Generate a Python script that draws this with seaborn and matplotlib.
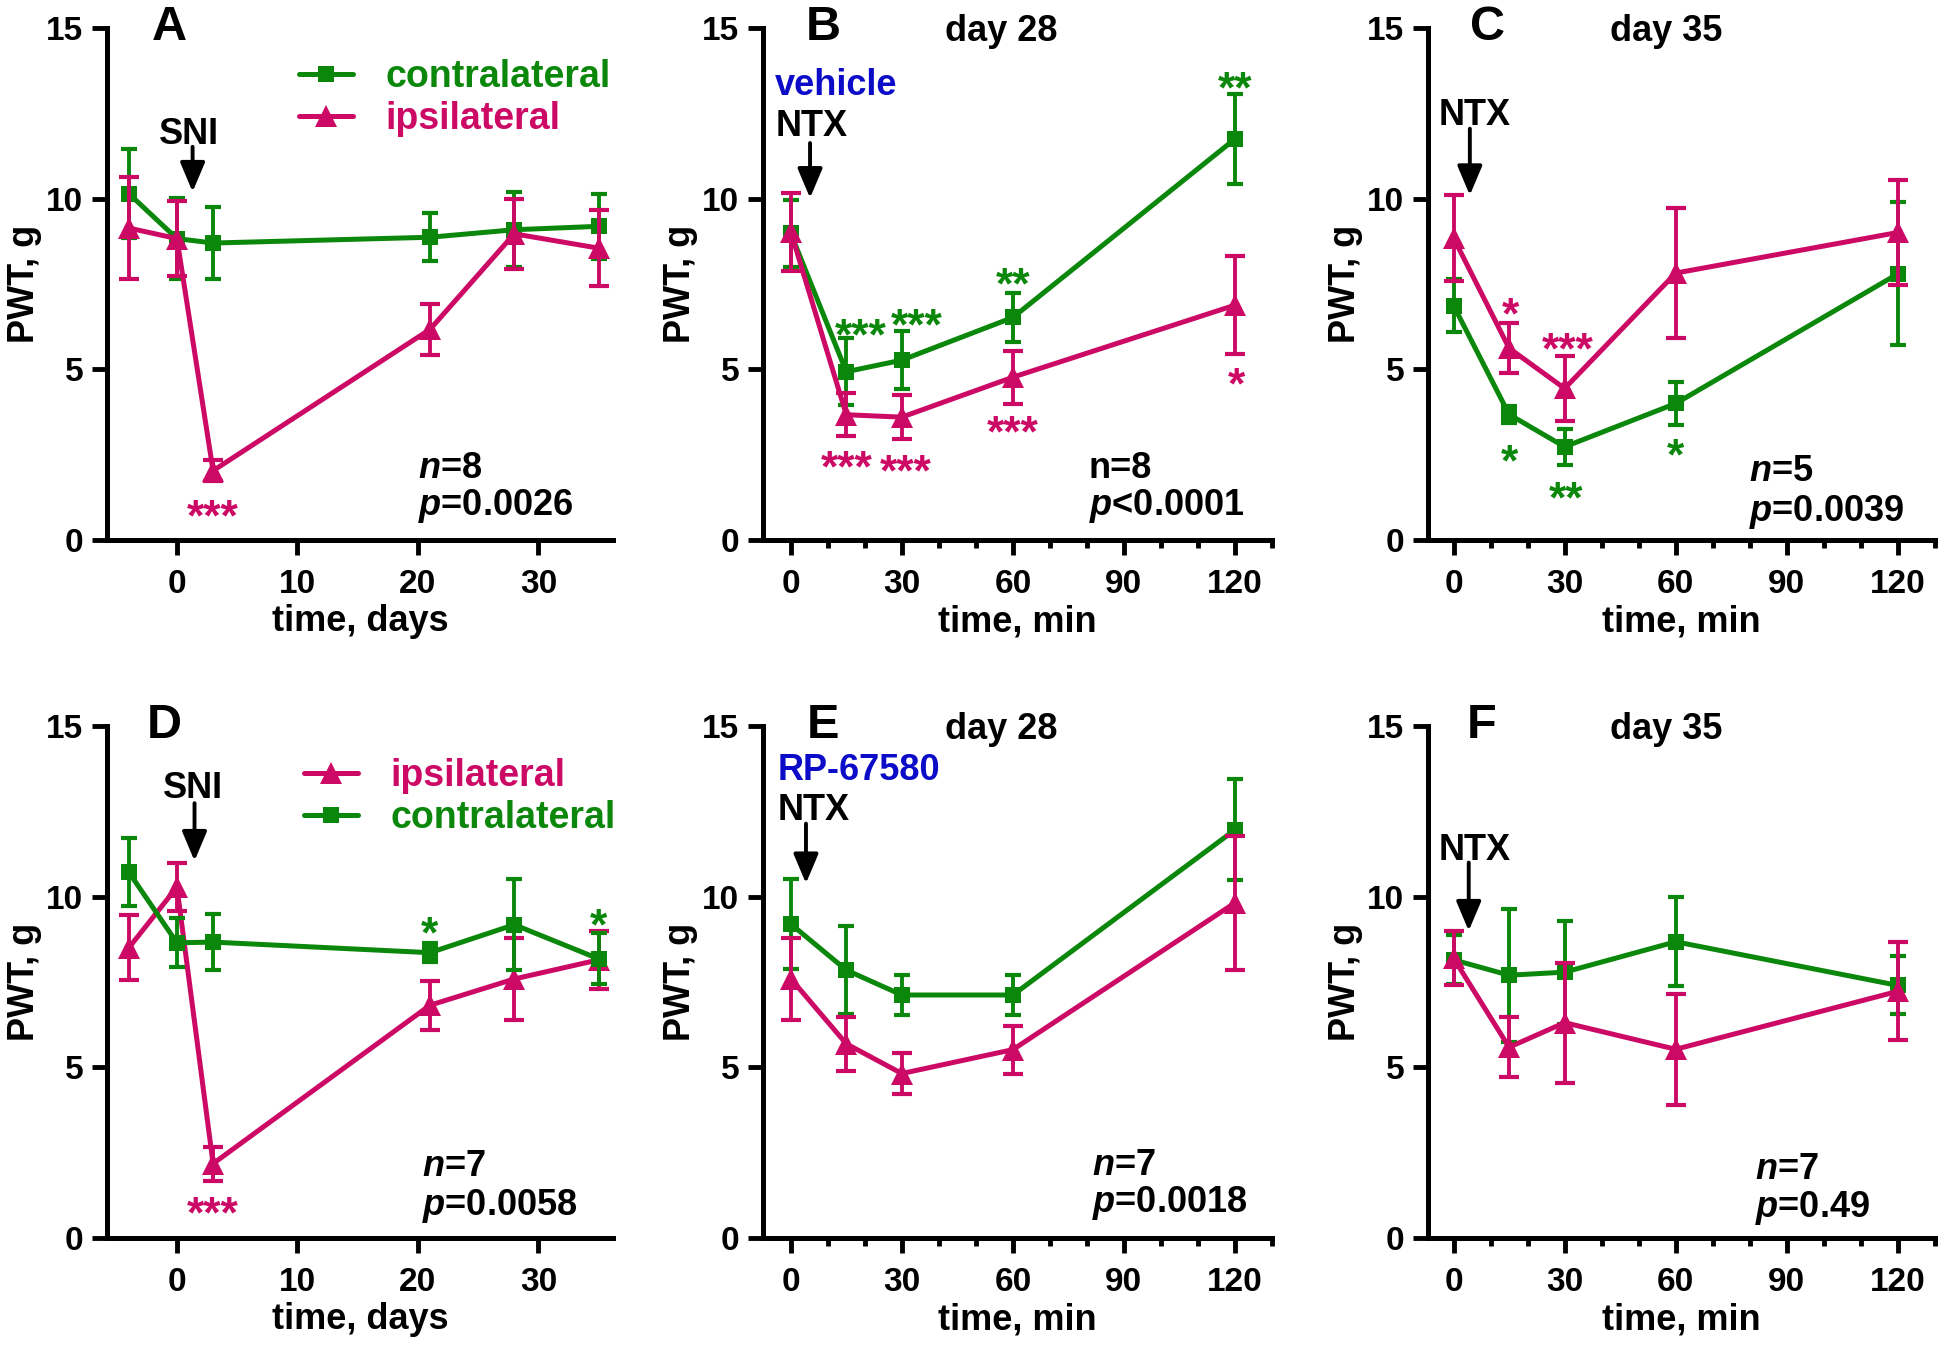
import matplotlib
matplotlib.use("Agg")
import matplotlib.pyplot as plt
import seaborn as sns
from matplotlib.ticker import MultipleLocator

GREEN = "#0b870b"
PINK = "#cc0a66"
BLUE = "#0c0cc8"

days = [-4, 0, 3, 21, 28, 35]
minutes = [0, 15, 30, 60, 120]

# panel A (SNI, days)
a_contra = [10.15, 8.83, 8.70, 8.87, 9.09, 9.19]
a_contra_sem = [1.31, 1.19, 1.06, 0.70, 1.10, 0.95]
a_ipsi = [9.14, 8.83, 2.03, 6.17, 8.97, 8.55]
a_ipsi_sem = [1.50, 1.11, 0.30, 0.75, 1.03, 1.12]

# panel B (vehicle, day 28)
b_contra = [8.98, 4.93, 5.27, 6.52, 11.75]
b_contra_sem = [0.98, 0.98, 0.85, 0.72, 1.33]
b_ipsi = [9.03, 3.67, 3.60, 4.77, 6.88]
b_ipsi_sem = [1.15, 0.63, 0.65, 0.78, 1.43]

# panel C (day 35)
c_contra = [6.87, 3.68, 2.73, 4.00, 7.80]
c_contra_sem = [0.79, 0.25, 0.52, 0.62, 2.10]
c_ipsi = [8.85, 5.62, 4.44, 7.82, 9.01]
c_ipsi_sem = [1.25, 0.73, 0.96, 1.91, 1.55]

# panel D (SNI, days)
d_contra = [10.72, 8.65, 8.67, 8.36, 9.18, 8.18]
d_contra_sem = [1.00, 0.72, 0.82, 0.27, 1.33, 0.75]
d_ipsi = [8.50, 10.28, 2.18, 6.82, 7.59, 8.15]
d_ipsi_sem = [0.95, 0.70, 0.50, 0.72, 1.19, 0.85]

# panel E (RP-67580, day 28)
e_contra = [9.20, 7.85, 7.12, 7.12, 11.96]
e_contra_sem = [1.31, 1.30, 0.60, 0.60, 1.48]
e_ipsi = [7.60, 5.69, 4.82, 5.52, 9.82]
e_ipsi_sem = [1.20, 0.80, 0.59, 0.70, 1.97]

# panel F (day 35)
f_contra = [8.15, 7.70, 7.79, 8.68, 7.40]
f_contra_sem = [0.72, 1.95, 1.51, 1.31, 0.85]
f_ipsi = [8.20, 5.59, 6.31, 5.53, 7.23]
f_ipsi_sem = [0.80, 0.88, 1.76, 1.63, 1.43]

# significance marks: (x, y, text, color)
a_stars = [(3, 1.01, "***", PINK)]
b_stars = [(19, 6.32, "***", GREEN), (34, 6.62, "***", GREEN), (60, 7.82, "**", GREEN),
           (120, 13.54, "**", GREEN), (15, 2.45, "***", PINK), (31, 2.33, "***", PINK),
           (60, 3.46, "***", PINK), (120.5, 4.89, "*", PINK)]
c_stars = [(15.5, 6.92, "*", PINK), (30.8, 5.91, "***", PINK), (15, 2.63, "*", GREEN),
           (30.4, 1.55, "**", GREEN), (60, 2.80, "*", GREEN)]
d_stars = [(3, 1.03, "***", PINK), (21, 9.24, "*", GREEN), (35, 9.48, "*", GREEN)]

sns.set_theme(style="ticks")
plt.rcParams["font.family"] = ["Liberation Sans", "DejaVu Sans"]
plt.rcParams["font.weight"] = "bold"
plt.rcParams["axes.labelweight"] = "bold"
plt.rcParams["text.color"] = "black"
plt.rcParams["axes.labelcolor"] = "black"
plt.rcParams["xtick.labelcolor"] = "black"
plt.rcParams["ytick.labelcolor"] = "black"
plt.rcParams["mathtext.fontset"] = "custom"
plt.rcParams["mathtext.it"] = "Liberation Sans:italic:bold"
plt.rcParams["mathtext.rm"] = "Liberation Sans:bold"

FS = 26
TICK_FS = 24


def series(ax, x, y, sem, color, marker, ms, cap, label):
    ax.errorbar(x, y, yerr=sem, fmt="none", ecolor=color, elinewidth=2.8,
                capsize=cap, capthick=3.0, clip_on=False)
    sns.lineplot(x=x, y=y, color=color, marker=marker, markersize=ms,
                 markeredgewidth=0, linewidth=3.6, errorbar=None, legend=False,
                 label=label, ax=ax, clip_on=False)


def txt(ax, x, y, s, coords="data", ha="center", frac=0.36, **kw):
    kw.setdefault("fontsize", FS)
    kw.setdefault("fontweight", "bold")
    kw.setdefault("color", "black")
    ax.annotate(s, (x, y), xycoords=coords, xytext=(0, -frac * kw["fontsize"]),
                textcoords="offset points", ha=ha, va="baseline", **kw)


def arrow(ax, x, y0, y1):
    ax.annotate("", xy=(x, y1), xytext=(x, y0),
                arrowprops=dict(arrowstyle="-|>,head_length=0.9,head_width=0.38",
                                mutation_scale=20, lw=2.8, color="black",
                                shrinkA=0, shrinkB=0))


def style(ax, xlim, xticks, minor, xlabel):
    ax.set_xlim(*xlim)
    ax.set_ylim(0, 15)
    ax.set_xticks(xticks)
    ax.set_yticks([0, 5, 10, 15])
    if minor:
        ax.xaxis.set_minor_locator(MultipleLocator(10))
    sns.despine(ax=ax)
    for side in ("left", "bottom"):
        ax.spines[side].set_linewidth(3.6)
        ax.spines[side].set_color("black")
    ax.tick_params(axis="y", length=11, width=3.5, labelsize=TICK_FS, pad=6,
                   color="black", labelcolor="black")
    ax.tick_params(axis="x", which="major", length=11, width=3.5, labelsize=TICK_FS,
                   pad=10, color="black", labelcolor="black")
    ax.tick_params(axis="x", which="minor", length=6, width=3.5, color="black")
    for lbl in ax.get_xticklabels() + ax.get_yticklabels():
        lbl.set_fontweight("bold")
    ax.set_xlabel(xlabel, fontsize=FS, labelpad=3, color="black")
    ax.set_ylabel("PWT, g", fontsize=FS, labelpad=3, color="black")


fig = plt.figure(figsize=(19.5, 13.46), dpi=100)
axA = fig.add_axes([0.0549, 0.5988, 0.2595, 0.3804])
axB = fig.add_axes([0.3913, 0.5988, 0.2610, 0.3804])
axC = fig.add_axes([0.7323, 0.5988, 0.2600, 0.3804])
axD = fig.add_axes([0.0549, 0.0802, 0.2595, 0.3804])
axE = fig.add_axes([0.3913, 0.0802, 0.2610, 0.3804])
axF = fig.add_axes([0.7323, 0.0802, 0.2600, 0.3804])

legend_kw = dict(loc="upper right", frameon=False, fontsize=27, handlelength=1.45,
                 handletextpad=0.85, labelspacing=0.17, borderpad=0, borderaxespad=0,
                 labelcolor="linecolor")

# A
series(axA, days, a_contra, a_contra_sem, GREEN, "s", 12, 5.5, "contralateral")
series(axA, days, a_ipsi, a_ipsi_sem, PINK, "^", 16, 7, "ipsilateral")
style(axA, (-5.8, 36.2), [0, 10, 20, 30], False, "time, days")
axA.legend(bbox_to_anchor=(0.995, 0.94), **legend_kw)
txt(axA, 0.96, 11.99, "SNI")
arrow(axA, 1.3, 11.52, 10.2)

# B
series(axB, minutes, b_contra, b_contra_sem, GREEN, "s", 12, 5.5, None)
series(axB, minutes, b_ipsi, b_ipsi_sem, PINK, "^", 16, 7, None)
style(axB, (-7.5, 130), [0, 30, 60, 90, 120], True, "time, min")
txt(axB, -4.2, 13.42, "vehicle", ha="left", color=BLUE)
txt(axB, -4.2, 12.23, "NTX", ha="left")
arrow(axB, 5.2, 11.63, 10.02)

# C
series(axC, minutes, c_contra, c_contra_sem, GREEN, "s", 12, 5.5, None)
series(axC, minutes, c_ipsi, c_ipsi_sem, PINK, "^", 16, 7, None)
style(axC, (-6.9, 130), [0, 30, 60, 90, 120], True, "time, min")
txt(axC, -3.9, 12.53, "NTX", ha="left")
arrow(axC, 4.4, 12.05, 10.1)

# D
series(axD, days, d_ipsi, d_ipsi_sem, PINK, "^", 16, 7, "ipsilateral")
series(axD, days, d_contra, d_contra_sem, GREEN, "s", 12, 5.5, "contralateral")
style(axD, (-5.8, 36.2), [0, 10, 20, 30], False, "time, days")
axD.legend(bbox_to_anchor=(1.005, 0.938), **legend_kw)
txt(axD, 1.3, 13.28, "SNI")
arrow(axD, 1.46, 12.74, 11.05)

# E
series(axE, minutes, e_contra, e_contra_sem, GREEN, "s", 12, 5.5, None)
series(axE, minutes, e_ipsi, e_ipsi_sem, PINK, "^", 16, 7, None)
style(axE, (-7.5, 130), [0, 30, 60, 90, 120], True, "time, min")
txt(axE, -3.5, 13.8, "RP-67580", ha="left", color=BLUE)
txt(axE, -3.5, 12.64, "NTX", ha="left")
arrow(axE, 4.1, 12.14, 10.39)

# F
series(axF, minutes, f_contra, f_contra_sem, GREEN, "s", 12, 5.5, None)
series(axF, minutes, f_ipsi, f_ipsi_sem, PINK, "^", 16, 7, None)
style(axF, (-6.9, 130), [0, 30, 60, 90, 120], True, "time, min")
txt(axF, -4.1, 11.47, "NTX", ha="left")
arrow(axF, 4.1, 11.0, 9.0)

# panel letters and titles
for ax, letter, lx, title in [(axA, "A", 0.124, None), (axB, "B", 0.119, "day 28"),
                              (axC, "C", 0.118, "day 35"), (axD, "D", 0.114, None),
                              (axE, "E", 0.118, "day 28"), (axF, "F", 0.105, "day 35")]:
    txt(ax, lx, 15.16, letter, coords=("axes fraction", "data"), fontsize=35)
    if title:
        txt(ax, 0.469, 15.0, title, coords=("axes fraction", "data"))

# n / p annotations
for ax, px, ny, py, ntext, ptext in [
        (axA, 0.615, 2.2, 1.12, r"$n$=8", r"$p$=0.0026"),
        (axB, 0.64, 2.2, 1.1, "n=8", r"$p$<0.0001"),
        (axC, 0.633, 2.1, 0.95, r"$n$=5", r"$p$=0.0039"),
        (axD, 0.623, 2.2, 1.05, r"$n$=7", r"$p$=0.0058"),
        (axE, 0.646, 2.22, 1.15, r"$n$=7", r"$p$=0.0018"),
        (axF, 0.645, 2.1, 1.0, r"$n$=7", r"$p$=0.49")]:
    txt(ax, px, ny, ntext, coords=("axes fraction", "data"), ha="left")
    txt(ax, px, py, ptext, coords=("axes fraction", "data"), ha="left")

for ax, stars in [(axA, a_stars), (axB, b_stars), (axC, c_stars), (axD, d_stars)]:
    for x, y, s, c in stars:
        txt(ax, x, y, s, color=c, fontsize=32, frac=0.56)

fig.savefig("out.png", dpi=100)
